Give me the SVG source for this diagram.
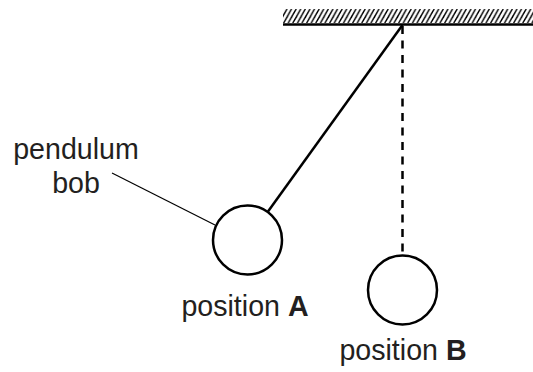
<svg xmlns="http://www.w3.org/2000/svg" width="533" height="372" viewBox="0 0 533 372">
<style>
.lbl{font-family:"Liberation Sans",Arial,sans-serif;font-size:28.6px;fill:#231f20;text-anchor:middle}
.b{font-weight:bold}
.ln{stroke:#000;fill:none}
</style>
<defs>
<pattern id="hatch" patternUnits="userSpaceOnUse" x="283" y="9" width="4.6" height="14">
<line x1="-4" y1="14" x2="4" y2="0" stroke="#000" stroke-width="1.4"/>
<line x1="0.6" y1="14" x2="8.6" y2="0" stroke="#000" stroke-width="1.4"/>
</pattern>
</defs>
<rect width="533" height="372" fill="#fff"/>
<g id="ceiling">
<rect x="283" y="9" width="250" height="14" fill="url(#hatch)"/>
<line class="ln" x1="283" y1="24.5" x2="533" y2="24.5" stroke-width="2.5"/>
</g>
<g id="connectors">
<line class="ln" x1="402.5" y1="25" x2="268" y2="211.5" stroke-width="2.5"/>
<line class="ln" x1="402.5" y1="26" x2="402.5" y2="255" stroke-width="2.5" stroke-dasharray="8,6.5"/>
<line class="ln" x1="112" y1="173" x2="215" y2="225" stroke-width="1.2"/>
</g>
<g id="bobA">
<circle class="ln" cx="247.5" cy="240" r="34.5" stroke-width="2.5"/>
<text class="lbl" x="245" y="316">position <tspan class="b">A</tspan></text>
</g>
<g id="bobB">
<circle class="ln" cx="402.5" cy="290" r="34.5" stroke-width="2.5"/>
<text class="lbl" x="403" y="360">position <tspan class="b">B</tspan></text>
</g>
<g id="label">
<text class="lbl" x="76" y="159">pendulum</text>
<text class="lbl" x="76" y="193">bob</text>
</g>
</svg>
